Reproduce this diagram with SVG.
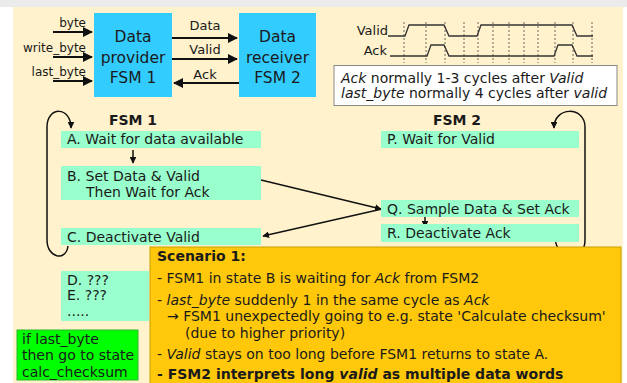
<svg xmlns="http://www.w3.org/2000/svg" width="627" height="383" viewBox="0 0 627 383">
<style>
text{font-family:"DejaVu Sans","Verdana",sans-serif;fill:#1a1a1a}
.blk{fill:#33ccff}
.st{fill:#99ffcc}
.ln{stroke:#111;stroke-width:2;fill:none}
.thin{stroke:#111;stroke-width:1.5;fill:none}
.wv{stroke:#333;stroke-width:1.3;fill:none}
.dash{stroke:#444;stroke-width:0.8;stroke-dasharray:2,2}
.big{font-size:15.5px}
.sm{font-size:12px}
.md{font-size:13px}
.tx{font-size:14px}
.b{font-weight:bold}
.i{font-style:italic}
</style>
<defs>
<marker id="ah" viewBox="0 0 10 10" refX="9" refY="5" markerWidth="5" markerHeight="5" orient="auto"><path d="M0,0 L10,5 L0,10 z" fill="#111"/></marker>
<marker id="ahs" viewBox="0 0 10 10" refX="9" refY="5" markerWidth="4.5" markerHeight="4.5" orient="auto"><path d="M0,0 L10,5 L0,10 z" fill="#111"/></marker>
</defs>
<rect x="0" y="0" width="627" height="383" fill="#ffffff"/>
<rect x="0" y="0" width="627" height="7" fill="#ebebeb"/>
<rect x="13" y="7" width="610" height="376" fill="#fff2cc"/>

<!-- block diagram -->
<g id="provider">
<rect class="blk" x="94" y="13" width="78" height="84"/>
<text class="big" x="133" y="42" text-anchor="middle">Data</text>
<text class="big" x="133" y="63" text-anchor="middle">provider</text>
<text class="big" x="133" y="83" text-anchor="middle">FSM 1</text>
</g>
<g id="receiver">
<rect class="blk" x="239" y="13" width="77" height="84"/>
<text class="big" x="277.5" y="42" text-anchor="middle">Data</text>
<text class="big" x="277.5" y="63" text-anchor="middle">receiver</text>
<text class="big" x="277.5" y="83" text-anchor="middle">FSM 2</text>
</g>
<g id="connectors">
<line class="ln" x1="53" y1="32" x2="92" y2="32" marker-end="url(#ah)"/>
<line class="ln" x1="53" y1="57" x2="92" y2="57" marker-end="url(#ah)"/>
<line class="ln" x1="53" y1="81" x2="92" y2="81" marker-end="url(#ah)"/>
<line class="ln" x1="172" y1="38" x2="237" y2="38" marker-end="url(#ah)"/>
<line class="ln" x1="172" y1="59" x2="237" y2="59" marker-end="url(#ah)"/>
<line class="ln" x1="239" y1="83" x2="174" y2="83" marker-end="url(#ah)"/>
<line class="thin" x1="133" y1="150" x2="133" y2="163" marker-end="url(#ahs)"/>
<line class="thin" x1="261" y1="180" x2="381" y2="209" marker-end="url(#ahs)"/>
<line class="thin" x1="382" y1="209" x2="263" y2="236" marker-end="url(#ahs)"/>
<line class="thin" x1="425" y1="215" x2="425" y2="227" marker-end="url(#ahs)"/>
<path class="thin" d="M68 246 C66 262,47 258,47 240 L47 127 C47 106,71 106,71 128" marker-end="url(#ahs)"/>
<path class="thin" d="M555 238 C557 262,585 262,585 240 L585 127 C585 106,554 106,554 128" marker-end="url(#ahs)"/>
</g>
<g id="labels">
<text class="sm" x="86" y="27" text-anchor="end">byte</text>
<text class="sm" x="86" y="52" text-anchor="end">write_byte</text>
<text class="sm" x="86" y="76" text-anchor="end">last_byte</text>
<text class="md" x="205" y="30" text-anchor="middle">Data</text>
<text class="md" x="205" y="54" text-anchor="middle">Valid</text>
<text class="md" x="205" y="79" text-anchor="middle">Ack</text>
</g>

<!-- timing -->
<g id="timing">
<g class="dash">
<line x1="404" y1="22" x2="404" y2="63"/><line x1="426" y1="22" x2="426" y2="63"/>
<line x1="445" y1="22" x2="445" y2="63"/><line x1="464" y1="22" x2="464" y2="63"/>
<line x1="478" y1="22" x2="478" y2="63"/><line x1="493" y1="22" x2="493" y2="63"/>
<line x1="509" y1="22" x2="509" y2="63"/><line x1="524" y1="22" x2="524" y2="63"/>
<line x1="538" y1="22" x2="538" y2="63"/><line x1="555" y1="22" x2="555" y2="63"/>
<line x1="573" y1="22" x2="573" y2="63"/><line x1="592" y1="22" x2="592" y2="63"/>
</g>
<path class="wv" d="M388 36 L405 36 L409 25 L444 25 L449 36 L477 36 L481 25 L572 25 L577 36 L593 36"/>
<path class="wv" d="M390 56 L427 56 L431 45 L444 45 L449 56 L554 56 L558 45 L572 45 L577 56 L593 56"/>
<text class="md" x="388" y="35" text-anchor="end">Valid</text>
<text class="md" x="387" y="55" text-anchor="end">Ack</text>
</g>
<g id="note">
<rect x="334" y="65.5" width="283" height="40" fill="#ffffff" stroke="#888" stroke-width="1"/>
<text class="tx" x="341" y="83"><tspan class="i">Ack</tspan> normally 1-3 cycles after <tspan class="i">Valid</tspan></text>
<text class="tx" x="341" y="98"><tspan class="i">last_byte</tspan> normally 4 cycles after <tspan class="i">valid</tspan></text>
</g>

<!-- FSM 1 -->
<text class="tx b" x="133" y="125" text-anchor="middle">FSM 1</text>
<g id="stateA"><rect class="st" x="61" y="131" width="200" height="17"/><text class="tx" x="67" y="144">A. Wait for data available</text></g>
<g id="stateB"><rect class="st" x="61" y="166" width="200" height="34"/><text class="tx" x="67" y="181">B. Set Data &amp; Valid</text><text class="tx" x="86" y="197">Then Wait for Ack</text></g>
<g id="stateC"><rect class="st" x="61" y="228" width="200" height="17"/><text class="tx" x="67" y="242">C. Deactivate Valid</text></g>
<g id="stateDE"><rect class="st" x="61" y="271" width="88" height="50"/><text class="tx" x="67" y="285">D. ???</text><text class="tx" x="67" y="300">E. ???</text><text class="tx" x="67" y="316">.....</text></g>
<g id="cond"><rect x="17" y="330" width="121" height="50" fill="#00ff00" stroke="#2bb52b" stroke-width="1"/><text class="tx" x="22" y="344">if last_byte</text><text class="tx" x="22" y="360">then go to state</text><text class="tx" x="22" y="377">calc_checksum</text></g>

<!-- FSM 2 -->
<text class="tx b" x="457" y="125" text-anchor="middle">FSM 2</text>
<g id="stateP"><rect class="st" x="381" y="131" width="198" height="17"/><text class="tx" x="387" y="144">P. Wait for Valid</text></g>
<g id="stateQ"><rect class="st" x="381" y="200" width="198" height="17"/><text class="tx" x="387" y="214">Q. Sample Data &amp; Set Ack</text></g>
<g id="stateR"><rect class="st" x="381" y="224" width="198" height="18"/><text class="tx" x="387" y="238">R. Deactivate Ack</text></g>

<!-- scenario -->
<g id="scenario">
<rect x="150" y="247" width="471" height="140" fill="#ffc80a" stroke="#c8a000" stroke-width="1"/>
<text class="tx b" x="157" y="261">Scenario 1:</text>
<text class="tx" x="157" y="283">- FSM1 in state B is waiting for <tspan class="i">Ack</tspan> from FSM2</text>
<text class="tx" x="157" y="305">- <tspan class="i">last_byte</tspan> suddenly 1 in the same cycle as <tspan class="i">Ack</tspan></text>
<text class="tx" x="167" y="321">→ FSM1 unexpectedly going to e.g. state 'Calculate checksum'</text>
<text class="tx" x="185" y="338">(due to higher priority)</text>
<text class="tx" x="157" y="359">- <tspan class="i">Valid</tspan> stays on too long before FSM1 returns to state A.</text>
<text class="tx b" x="157" y="379">- FSM2 interprets long <tspan class="i">valid</tspan> as multiple data words</text>
</g>
</svg>
